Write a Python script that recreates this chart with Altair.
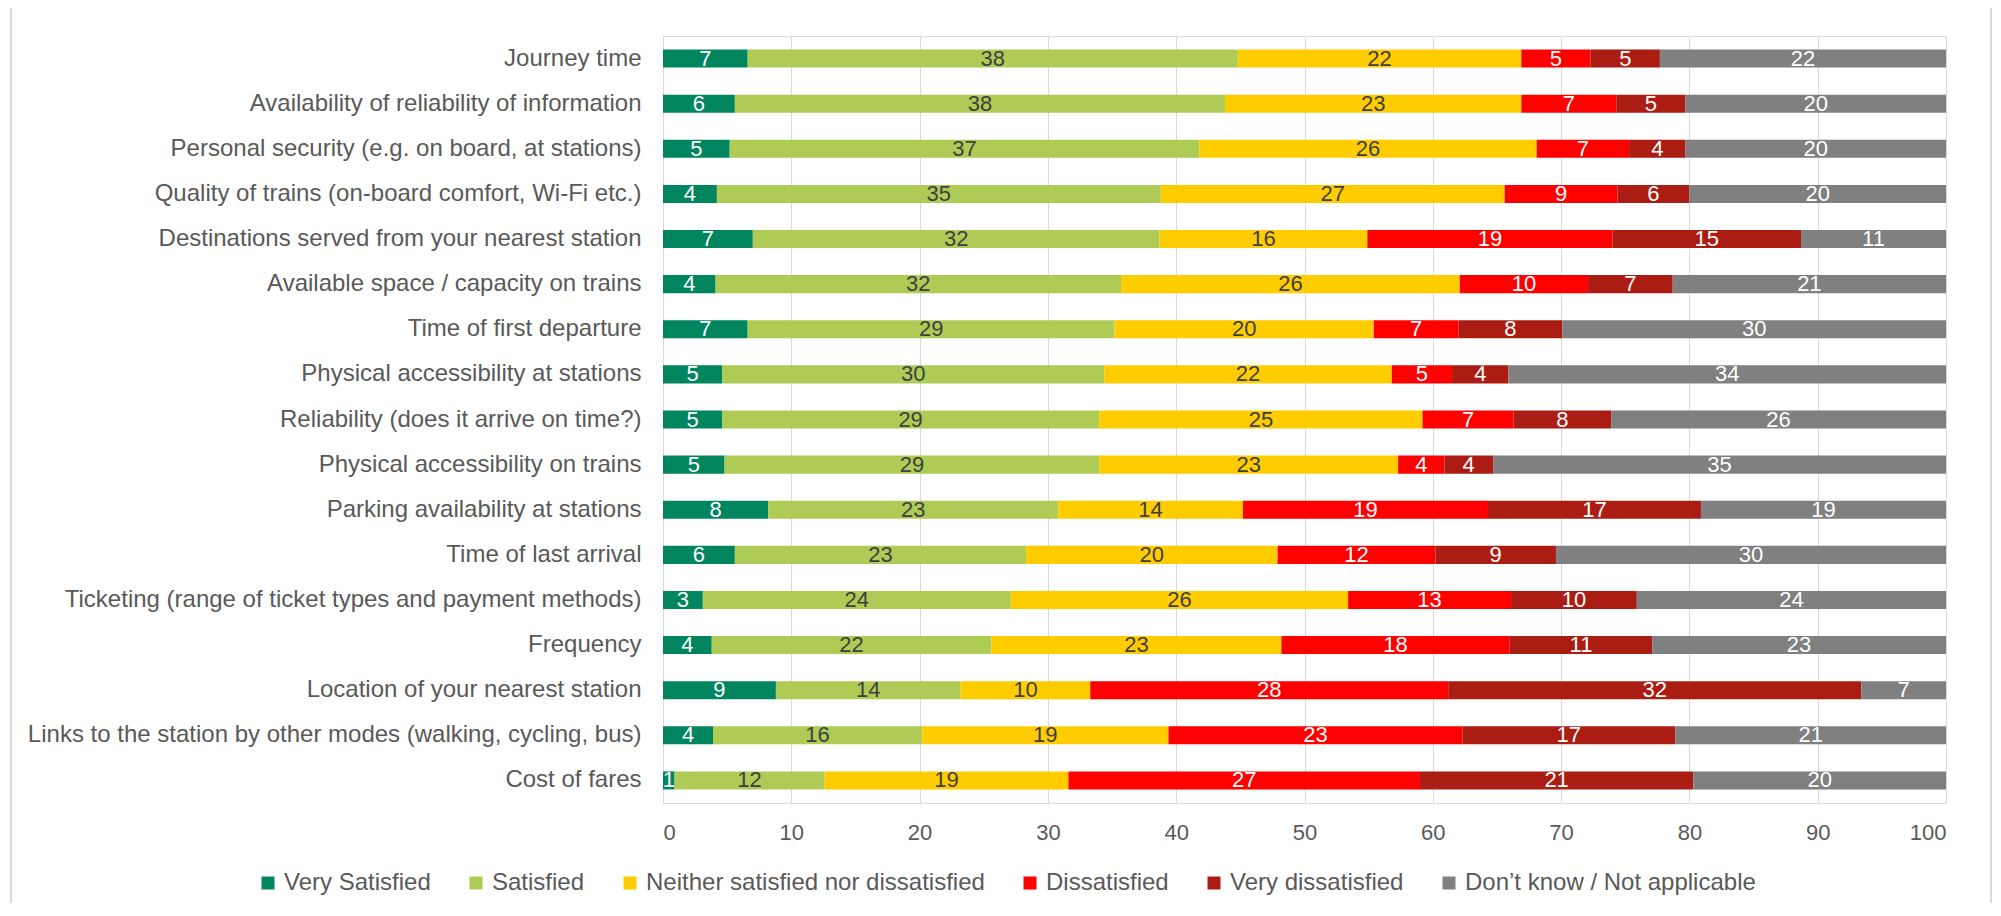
import altair as alt
import pandas as pd

categories = [
    "Journey time",
    "Availability of reliability of information",
    "Personal security (e.g. on board, at stations)",
    "Quality of trains (on-board comfort, Wi-Fi etc.)",
    "Destinations served from your nearest station",
    "Available space / capacity on trains",
    "Time of first departure",
    "Physical accessibility at stations",
    "Reliability (does it arrive on time?)",
    "Physical accessibility on trains",
    "Parking availability at stations",
    "Time of last arrival",
    "Ticketing (range of ticket types and payment methods)",
    "Frequency\u00a0",
    "Location of your nearest station",
    "Links to the station by other modes (walking, cycling, bus)",
    "Cost of fares",
]

series = [
    "Very Satisfied",
    "Satisfied",
    "Neither satisfied nor dissatisfied",
    "Dissatisfied",
    "Very dissatisfied",
    "Don\u2019t know / Not applicable",
]

very_satisfied = [6.6, 5.6, 5.2, 4.2, 7.0, 4.1, 6.6, 4.6, 4.6, 4.8, 8.2, 5.6, 3.1, 3.8, 8.8, 3.9, 0.9]
satisfied = [38.2, 38.2, 36.6, 34.6, 31.7, 31.6, 28.6, 29.8, 29.4, 29.2, 22.6, 22.7, 24.0, 21.8, 14.4, 16.3, 11.7]
neither = [22.1, 23.1, 26.3, 26.8, 16.2, 26.4, 20.2, 22.4, 25.2, 23.3, 14.4, 19.6, 26.3, 22.6, 10.1, 19.2, 19.0]
dissatisfied = [5.4, 7.4, 7.2, 8.8, 19.1, 10.0, 6.6, 4.7, 7.1, 3.6, 19.1, 12.3, 12.7, 17.8, 27.9, 22.9, 27.4]
very_dissatisfied = [5.4, 5.4, 4.4, 5.6, 14.7, 6.6, 8.1, 4.4, 7.6, 3.8, 16.6, 9.4, 9.8, 11.1, 32.2, 16.6, 21.3]
dont_know = [22.3, 20.3, 20.3, 20.0, 11.3, 21.3, 29.9, 34.1, 26.1, 35.3, 19.1, 30.4, 24.1, 22.9, 6.6, 21.1, 19.7]

colors = ["#00855F", "#AECB55", "#FFCC00", "#FF0000", "#AB1D12", "#808080"]
x_ticks = [0, 10, 20, 30, 40, 50, 60, 70, 80, 90, 100]

all_values = [very_satisfied, satisfied, neither, dissatisfied, very_dissatisfied, dont_know]
rows = []
for si, (name, vals) in enumerate(zip(series, all_values)):
    for cat, v in zip(categories, vals):
        rows.append({"category": cat, "series": name, "order": si, "value": v})
df = pd.DataFrame(rows)

FONT = "Liberation Sans"
GREY_TXT = "#595959"

x_axis = alt.Axis(values=x_ticks, title=None, grid=True, gridColor="#D9D9D9", gridWidth=1,
                  domain=False, ticks=False, tickSize=0, labelPadding=19,
                  labelFontSize=22, labelColor=GREY_TXT, labelFont=FONT)
x_scale = alt.Scale(domain=[0, 100], nice=False)
y_enc = alt.Y("category:N", sort=categories,
              scale=alt.Scale(paddingInner=0.6, paddingOuter=0.3),
              axis=alt.Axis(title=None, labelFontSize=24, labelColor=GREY_TXT, labelFont=FONT,
                            labelPadding=22, labelLimit=900, ticks=False, tickSize=0, domain=False))

base = alt.Chart(df).transform_stack(
    stack="value", groupby=["category"], as_=["x0", "x1"],
    sort=[alt.SortField("order", order="ascending")]
).transform_calculate(
    mid="(datum.x0 + datum.x1) / 2",
    label="format(datum.value, '.0f')"
)

bars = base.mark_bar().encode(
    x=alt.X("x0:Q", scale=x_scale, axis=x_axis),
    x2="x1:Q",
    y=y_enc,
    color=alt.Color("series:N", scale=alt.Scale(domain=series, range=colors),
                    legend=alt.Legend(orient="none", legendX=-407, legendY=835, direction="horizontal",
                                      title=None, symbolType="square", symbolSize=169,
                                      symbolStrokeWidth=0, labelFontSize=24, labelColor=GREY_TXT,
                                      labelFont=FONT, labelOffset=4, columnPadding=33,
                                      labelLimit=1000)),
)

white_txt = base.transform_filter(
    "datum.order == 0 || datum.order >= 3"
).mark_text(font=FONT, fontSize=22, color="white", align="center", baseline="middle").encode(
    x=alt.X("mid:Q", scale=x_scale, axis=x_axis),
    y=y_enc,
    text="label:N",
)

dark_txt = base.transform_filter(
    "datum.order == 1 || datum.order == 2"
).mark_text(font=FONT, fontSize=22, color="#404040", align="center", baseline="middle").encode(
    x=alt.X("mid:Q", scale=x_scale, axis=x_axis),
    y=y_enc,
    text="label:N",
)

frame = alt.Chart(pd.DataFrame({"a": [0]})).mark_rect(
    fill="white", fillOpacity=0, stroke="#D9D9D9", strokeWidth=2
).encode(
    x=alt.value(-652), x2=alt.value(1328), y=alt.value(-30), y2=alt.value(900)
)

chart = alt.layer(frame, bars, white_txt, dark_txt).properties(
    width=1283, height=767,
    padding={"left": 655, "top": 28, "right": 46, "bottom": 100},
    autosize=alt.AutoSizeParams(type="none"),
).configure_view(stroke="transparent").configure(background="white")

chart.save("out.html", embed_options={"renderer": "svg", "actions": False})
